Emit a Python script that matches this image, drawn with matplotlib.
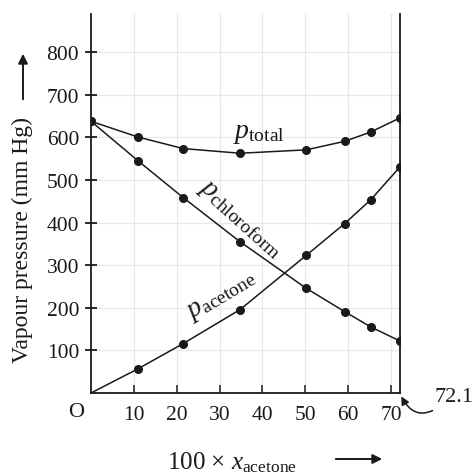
import matplotlib
matplotlib.use('Agg')
import matplotlib.pyplot as plt

# values
x_acetone = [0, 11, 21.5, 34.8, 50.2, 59.2, 65.3, 72.1]
p_total = [638, 601, 574, 563, 571, 591, 613, 646]
p_chloroform = [638, 545, 459, 355, 246, 191, 155, 122]
p_acetone = [0, 57, 116, 196, 323, 398, 454, 531]

x_ticks = [10, 20, 30, 40, 50, 60, 70]
y_ticks = [100, 200, 300, 400, 500, 600, 700, 800]

plt.rcParams['font.family'] = ['Liberation Serif', 'DejaVu Serif']
plt.rcParams['mathtext.fontset'] = 'custom'
plt.rcParams['mathtext.rm'] = 'Liberation Serif'
plt.rcParams['mathtext.it'] = 'Liberation Serif:italic'

W, H = 472, 477
fig = plt.figure(figsize=(W / 100, H / 100), dpi=100)
ax = fig.add_axes([91 / W, 1 - 394 / H, 309 / W, 379 / H])

ink = '#1a1a1a'
ax.set_xlim(0, 72.1)
ax.set_ylim(0, 890)

# faint background grid
for xv in x_ticks:
    ax.axvline(xv, color='#e4e9ee', lw=0.9, zorder=0)
for yv in y_ticks:
    ax.axhline(yv, color='#e4e9ee', lw=0.9, zorder=0)

ax.plot(x_acetone, p_total, color=ink, lw=1.1, marker='o', ms=5.5, zorder=3)
ax.plot(x_acetone, p_chloroform, color=ink, lw=1.1, marker='o', ms=5.5, zorder=3)
ax.plot(x_acetone, p_acetone, color=ink, lw=1.1, zorder=3)
ax.plot(x_acetone[1:], p_acetone[1:], ls='none', color=ink, marker='o', ms=5.5, zorder=3)

ax.spines['top'].set_visible(False)
for side in ['left', 'bottom', 'right']:
    ax.spines[side].set_color(ink)
    ax.spines[side].set_linewidth(1.3)

ax.set_xticks(x_ticks)
ax.set_yticks(y_ticks)
ax.tick_params(axis='y', direction='inout', length=9, width=1.3, pad=4,
               labelsize=15.5, colors=ink)
ax.tick_params(axis='x', direction='in', length=6, width=1.1, pad=9,
               labelsize=15.5, colors=ink)

ax.text(-1.5, -20, 'O', ha='right', va='top', fontsize=16, color=ink)

# curve labels
ax.text(33.2, 612, r'$p_{\rm total}$', fontsize=20, color=ink, ha='left', va='center')
ax.text(34.8, 410, r'$p_{\rm chloroform}$', fontsize=20, color=ink,
        ha='center', va='center', rotation=-42, rotation_mode='anchor')
ax.text(30.5, 232, r'$p_{\rm acetone}$', fontsize=20, color=ink,
        ha='center', va='center', rotation=31, rotation_mode='anchor')

# axis labels with arrows
fig.text(22 / W, 1 - 240 / H, 'Vapour pressure (mm Hg)', rotation=90,
         ha='center', va='center', fontsize=17, color=ink)
fig.add_artist(matplotlib.patches.FancyArrowPatch(
    (23 / W, 1 - 103 / H), (23 / W, 1 - 52 / H), transform=fig.transFigure,
    arrowstyle='-|>', mutation_scale=14, lw=1.4, color=ink))

fig.text(232 / W, 1 - 463 / H, r'100 $\times$ $x_{\rm acetone}$',
         ha='center', va='center', fontsize=18, color=ink)
fig.add_artist(matplotlib.patches.FancyArrowPatch(
    (333 / W, 1 - 460 / H), (385 / W, 1 - 460 / H), transform=fig.transFigure,
    arrowstyle='-|>', mutation_scale=14, lw=1.4, color=ink))

# 72.1 marker with curved arrow
ax.annotate('72.1', xy=(72.4, -8), xycoords='data',
            xytext=(434 / W, 1 - 398 / H), textcoords='figure fraction',
            fontsize=16, color=ink, ha='left', va='center', annotation_clip=False,
            arrowprops=dict(arrowstyle='-|>', color=ink, lw=1.1, mutation_scale=12,
                            shrinkA=2, shrinkB=0,
                            relpos=(0.2, 0.1),
                            connectionstyle='arc3,rad=-0.6'))

fig.savefig('out.png', dpi=100, facecolor='white')
